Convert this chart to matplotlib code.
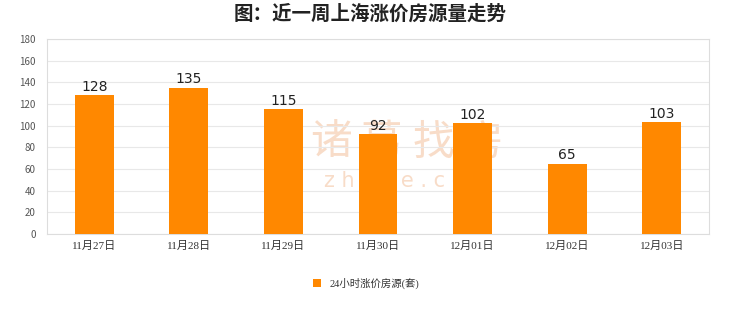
import numpy as np
import matplotlib
matplotlib.use('Agg')
import matplotlib.pyplot as plt

plt.rcParams['font.family'] = ['Noto Sans CJK SC', 'DejaVu Sans']

dates = ['11月27日', '11月28日', '11月29日', '11月30日', '12月01日', '12月02日', '12月03日']
counts = [128, 135, 115, 92, 102, 65, 103]
yticks = [0, 20, 40, 60, 80, 100, 120, 140, 160, 180]

W, H = 740, 312
fig = plt.figure(figsize=(7.4, 3.12), dpi=100)
ax = fig.add_axes([47 / W, 1 - 234 / H, 662 / W, 195 / H])
ax.set_zorder(1)
ax.patch.set_alpha(0)

# faint watermark (behind the axes)
for ch, px in zip('诸葛找房', [331, 382, 433, 482]):
    fig.text(px / W, 1 - 143 / H, ch, ha='center', va='center', fontsize=30,
             color='#f8dcc8', zorder=0)
fig.text(408 / W, 1 - 181 / H, 'z h u g e . c o m', ha='center', va='center',
         fontsize=15, color='#f8dcc8', family='DejaVu Sans', zorder=0)

x = np.arange(len(dates))
ax.bar(x, counts, width=0.41, color='#FF8800', zorder=3, label='24小时涨价房源(套)')

for xi, v in zip(x, counts):
    ax.text(xi, v + 1.5, str(v), ha='center', va='bottom', fontsize=10, color='#222222',
            family='DejaVu Sans', zorder=4)

ax.set_xlim(-0.5, len(dates) - 0.5)
ax.set_ylim(0, 180)
ax.set_yticks(yticks)
ax.set_xticks(x)
ax.set_xticklabels(dates, fontsize=8, color='#333333',
                   family=['Liberation Serif', 'Noto Sans CJK SC'])
ax.tick_params(axis='y', labelsize=7, colors='#555555', length=0, pad=8)
ax.tick_params(axis='x', length=0, pad=5)
ax.grid(axis='y', color='#e8e8e8', linewidth=0.8, zorder=1)
for s in ax.spines.values():
    s.set_color('#dddddd')
    s.set_linewidth(0.8)

fig.suptitle('图：近一周上海涨价房源量走势', x=0.5, y=0.985, fontsize=14,
             fontweight='bold', color='#222222')

leg = fig.legend(loc='center', bbox_to_anchor=(0.495, 0.093), frameon=False,
                 handlelength=0.8, handleheight=0.8, handletextpad=0.8,
                 prop={'family': ['Liberation Serif', 'Noto Sans CJK SC'], 'size': 7.5})
for t in leg.get_texts():
    t.set_color('#333333')

fig.savefig('out.png', dpi=100, facecolor='white')
